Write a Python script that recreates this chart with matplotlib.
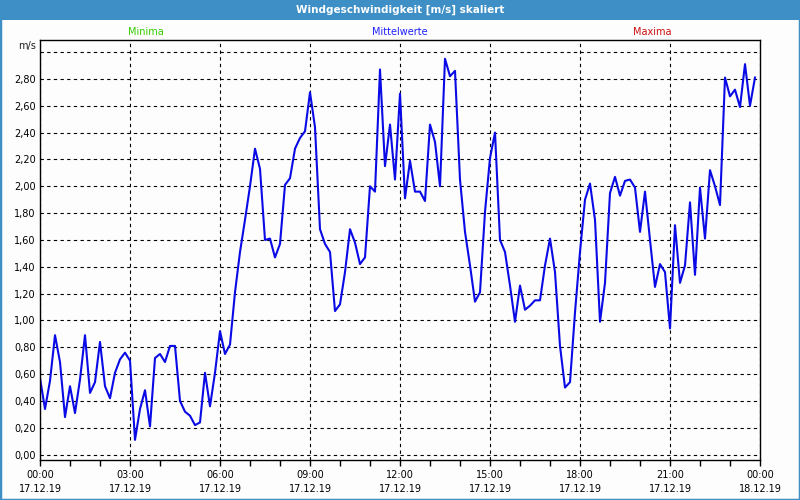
import matplotlib
matplotlib.use("Agg")
import matplotlib.pyplot as plt
from matplotlib.patches import Rectangle
from matplotlib.ticker import FuncFormatter, MultipleLocator
import numpy as np

# 10-minuten Mittelwerte, 17.12.19 00:00 .. 23:50
wind = [
    0.57, 0.34, 0.55, 0.89, 0.69, 0.28, 0.51, 0.31, 0.56, 0.89,
    0.46, 0.54, 0.84, 0.51, 0.42, 0.61, 0.71, 0.76, 0.70, 0.11,
    0.34, 0.48, 0.21, 0.72, 0.75, 0.69, 0.81, 0.81, 0.40, 0.32,
    0.29, 0.22, 0.24, 0.61, 0.36, 0.61, 0.92, 0.75, 0.82, 1.21,
    1.51, 1.75, 2.00, 2.28, 2.13, 1.60, 1.61, 1.47, 1.57, 2.01,
    2.06, 2.28, 2.36, 2.41, 2.70, 2.44, 1.68, 1.57, 1.51, 1.07,
    1.12, 1.36, 1.68, 1.58, 1.42, 1.47, 2.00, 1.96, 2.87, 2.15,
    2.46, 2.05, 2.69, 1.91, 2.19, 1.96, 1.96, 1.89, 2.46, 2.33,
    2.00, 2.95, 2.82, 2.86, 2.05, 1.66, 1.41, 1.14, 1.21, 1.81,
    2.21, 2.40, 1.60, 1.51, 1.26, 0.99, 1.26, 1.08, 1.11, 1.15,
    1.15, 1.41, 1.61, 1.36, 0.81, 0.50, 0.54, 1.06, 1.51, 1.90,
    2.02, 1.75, 0.99, 1.28, 1.95, 2.07, 1.93, 2.04, 2.05, 1.99,
    1.66, 1.96, 1.60, 1.25, 1.42, 1.36, 0.94, 1.71, 1.28, 1.41,
    1.88, 1.34, 1.99, 1.61, 2.12, 2.00, 1.86, 2.81, 2.67, 2.72,
    2.59, 2.91, 2.60, 2.81,
]
hours = np.arange(len(wind)) / 6.0

tick_hours = [0, 3, 6, 9, 12, 15, 18, 21, 24]
tick_labels = ["00:00\n17.12.19", "03:00\n17.12.19", "06:00\n17.12.19",
               "09:00\n17.12.19", "12:00\n17.12.19", "15:00\n17.12.19",
               "18:00\n17.12.19", "21:00\n17.12.19", "00:00\n18.12.19"]

title = "Windgeschwindigkeit [m/s] skaliert"
blue_bar = "#3d8fc6"

plt.rcParams['font.family'] = ['DejaVu Sans']
fig = plt.figure(figsize=(8, 5), dpi=100, facecolor="#fcfdfc")

# Rahmen + Titelleiste
fig.patches.append(Rectangle((0, 0), 1, 1, transform=fig.transFigure,
                             fill=False, edgecolor=blue_bar, linewidth=2.5))
fig.patches.append(Rectangle((0, 1 - 20 / 500), 1, 20 / 500, transform=fig.transFigure,
                             facecolor=blue_bar, edgecolor="none"))
fig.text(0.5, 1 - 10 / 500, title, color="white", fontsize=7.5, fontweight="bold",
         ha="center", va="center")

fig.text(146 / 800, 1 - 32 / 500, "Minima", color="#33cc00", fontsize=7, ha="center", va="center")
fig.text(400 / 800, 1 - 32 / 500, "Mittelwerte", color="#2020ff", fontsize=7, ha="center", va="center")
fig.text(652 / 800, 1 - 32 / 500, "Maxima", color="#cc1010", fontsize=7, ha="center", va="center")
fig.text(36 / 800, 1 - 46 / 500, "m/s", color="#202020", fontsize=7, ha="right", va="center")

ax = fig.add_axes([40 / 800, 40 / 500, 720 / 800, 420 / 500])
ax.set_facecolor("#fcfdfc")
ax.plot(hours, wind, color="#0a0ae6", linewidth=1.5)

ax.set_xlim(0, 24)
ax.set_ylim(-0.04, 3.09)

ax.set_xticks(tick_hours)
ax.set_xticklabels(tick_labels, fontsize=7, linespacing=1.5)
ax.xaxis.set_minor_locator(MultipleLocator(1))
ax.tick_params(axis="x", which="both", direction="out", length=4, width=1, pad=3)

ax.set_yticks(np.arange(0, 3.01, 0.2))
ax.yaxis.set_major_formatter(FuncFormatter(
    lambda v, p: "" if v > 2.9 else ("%.2f" % v).replace(".", ",")))
ax.tick_params(axis="y", length=0, labelsize=7, pad=3)

ax.grid(True, which="major", color="black", linestyle=(0, (3, 3)), linewidth=0.8)
for s in ax.spines.values():
    s.set_color("black")
    s.set_linewidth(1)

fig.savefig("out.png", dpi=100, facecolor=fig.get_facecolor())
